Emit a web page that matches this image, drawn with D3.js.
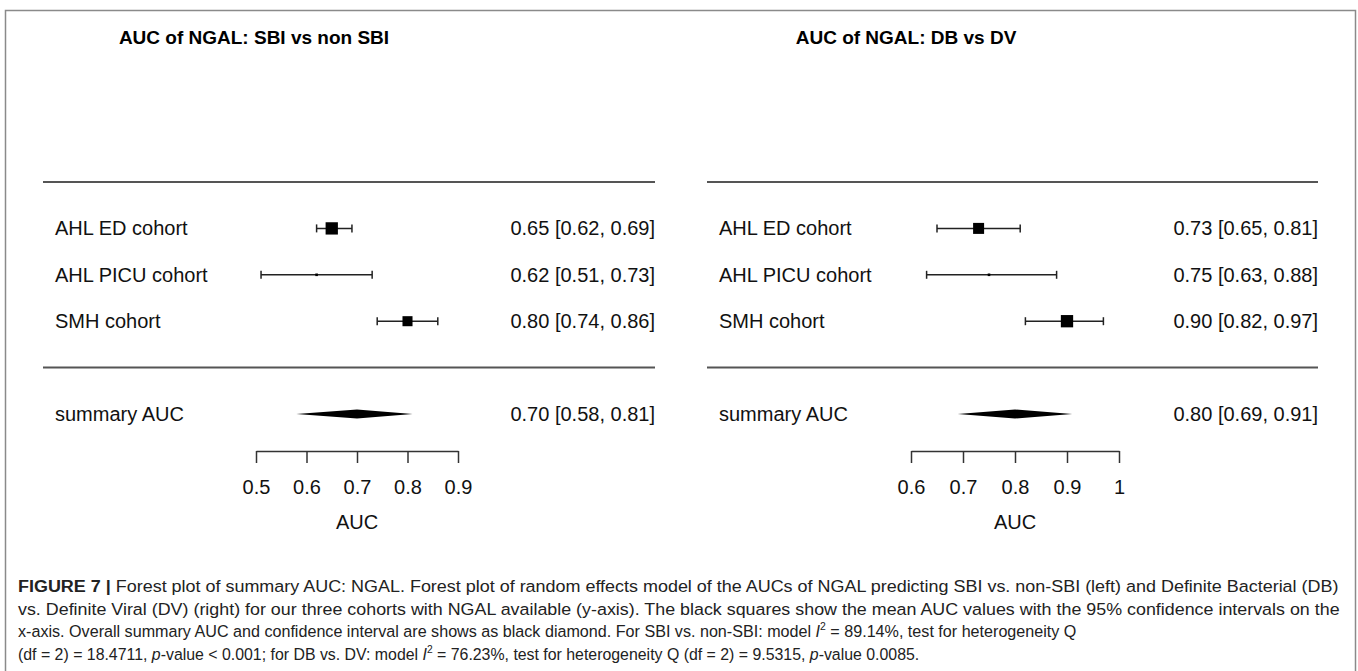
<!DOCTYPE html>
<html>
<head>
<meta charset="utf-8">
<script src="https://cdn.jsdelivr.net/npm/d3@7"></script>
<style>
  body { margin: 0; background: #fff; }
  svg { display: block; font-family: "Liberation Sans", Arial, sans-serif; }
</style>
</head>
<body>
<svg id="chart" width="1358" height="671"></svg>
<script>
// 資料
const cohorts = ["AHL ED cohort", "AHL PICU cohort", "SMH cohort"];
const summaryLabel = "summary AUC";

// SBI vs non SBI
const sbiAuc = [0.65, 0.62, 0.80];
const sbiLower = [0.62, 0.51, 0.74];
const sbiUpper = [0.69, 0.73, 0.86];
const sbiWeight = [45, 2, 30];
const sbiSummary = [0.70, 0.58, 0.81];
const sbiTicks = [0.5, 0.6, 0.7, 0.8, 0.9];

// DB vs DV
const dbAuc = [0.73, 0.75, 0.90];
const dbLower = [0.65, 0.63, 0.82];
const dbUpper = [0.81, 0.88, 0.97];
const dbWeight = [36, 2, 45];
const dbSummary = [0.80, 0.69, 0.91];
const dbTicks = [0.6, 0.7, 0.8, 0.9, 1];

const svg = d3.select("#chart");
const fmt = d3.format(".2f");

// 外框
svg.append("rect")
  .attr("x", 5.5).attr("y", 10.5)
  .attr("width", 1350).attr("height", 720)
  .attr("fill", "none").attr("stroke", "#8a8a8a").attr("stroke-width", 1.5);

// 列位置 (metafor 風格: 3..1 為研究, -1 為 summary)
const y = d3.scaleLinear().domain([4, -1]).range([182, 414]);
const size = d3.scaleSqrt().domain([0, 45]).range([0, 12.3]);

function drawPanel(opt) {
  const g = svg.append("g");
  const x = d3.scaleLinear().domain(d3.extent(opt.ticks)).range(opt.range);

  g.append("text")
    .attr("x", opt.titleX).attr("y", 44)
    .attr("text-anchor", "middle")
    .attr("font-weight", "bold").attr("font-size", 19)
    .text(opt.title);

  // 水平分隔線
  [4, 0].forEach((r) => {
    g.append("line")
      .attr("x1", opt.left).attr("x2", opt.right)
      .attr("y1", y(r)).attr("y2", y(r))
      .attr("stroke", "#555").attr("stroke-width", 2);
  });

  const rows = cohorts.map((c, i) => ({
    name: c, est: opt.est[i], lo: opt.lo[i], hi: opt.hi[i], w: opt.w[i], row: 3 - i
  }));

  const row = g.selectAll(".row").data(rows).enter().append("g");
  row.append("text")
    .attr("x", opt.left + 12).attr("y", (d) => y(d.row) + 7)
    .attr("font-size", 20).attr("fill", "#111")
    .text((d) => d.name);
  row.append("text")
    .attr("x", opt.right).attr("y", (d) => y(d.row) + 7)
    .attr("text-anchor", "end")
    .attr("font-size", 20).attr("fill", "#111")
    .text((d) => `${fmt(d.est)} [${fmt(d.lo)}, ${fmt(d.hi)}]`);
  row.append("line")
    .attr("x1", (d) => x(d.lo)).attr("x2", (d) => x(d.hi))
    .attr("y1", (d) => y(d.row)).attr("y2", (d) => y(d.row))
    .attr("stroke", "#222").attr("stroke-width", 1.5);
  ["lo", "hi"].forEach((k) => {
    row.append("line")
      .attr("x1", (d) => x(d[k])).attr("x2", (d) => x(d[k]))
      .attr("y1", (d) => y(d.row) - 4).attr("y2", (d) => y(d.row) + 4)
      .attr("stroke", "#222").attr("stroke-width", 1.5);
  });
  row.append("rect")
    .attr("x", (d) => x(d.est) - size(d.w) / 2)
    .attr("y", (d) => y(d.row) - size(d.w) / 2)
    .attr("width", (d) => size(d.w)).attr("height", (d) => size(d.w))
    .attr("fill", "#000");

  // summary 菱形
  const [se, sl, sh] = opt.summary;
  const sy = y(-1);
  g.append("text")
    .attr("x", opt.left + 12).attr("y", sy + 7)
    .attr("font-size", 20).attr("fill", "#111")
    .text(summaryLabel);
  g.append("text")
    .attr("x", opt.right).attr("y", sy + 7)
    .attr("text-anchor", "end")
    .attr("font-size", 20).attr("fill", "#111")
    .text(`${fmt(se)} [${fmt(sl)}, ${fmt(sh)}]`);
  g.append("path")
    .attr("d", d3.line()([[x(sl), sy], [x(se), sy - 4.5], [x(sh), sy], [x(se), sy + 4.5]]) + "Z")
    .attr("fill", "#000");

  // x 軸
  const axis = g.append("g")
    .attr("transform", `translate(0,451)`)
    .call(d3.axisBottom(x).tickValues(opt.ticks).tickSize(12).tickSizeOuter(0).tickPadding(17)
      .tickFormat((d) => d3.format("")(d)));
  axis.select(".domain").attr("stroke", "#333").attr("stroke-width", 1.5);
  axis.selectAll(".tick line").attr("stroke", "#333").attr("stroke-width", 1.5);
  axis.selectAll(".tick text")
    .attr("font-size", 20).attr("font-family", "Liberation Sans, Arial, sans-serif").attr("fill", "#111");

  g.append("text")
    .attr("x", (opt.range[0] + opt.range[1]) / 2).attr("y", 529)
    .attr("text-anchor", "middle").attr("font-size", 20).attr("fill", "#111")
    .text("AUC");
}

drawPanel({
  title: "AUC of NGAL: SBI vs non SBI", titleX: 254,
  left: 43, right: 655, range: [256, 458], ticks: sbiTicks,
  est: sbiAuc, lo: sbiLower, hi: sbiUpper, w: sbiWeight, summary: sbiSummary
});
drawPanel({
  title: "AUC of NGAL: DB vs DV", titleX: 906,
  left: 707, right: 1318, range: [911, 1119], ticks: dbTicks,
  est: dbAuc, lo: dbLower, hi: dbUpper, w: dbWeight, summary: dbSummary
});

// 圖說 (窄字: 先量寬度, 再橫向縮放)
const caption = [
  { end: 1340, parts: [["FIGURE 7 | ", "b"], ["Forest plot of summary AUC: NGAL. Forest plot of random effects model of the AUCs of NGAL predicting SBI vs. non-SBI (left) and Definite Bacterial (DB)"]] },
  { end: 1340, parts: [["vs. Definite Viral (DV) (right) for our three cohorts with NGAL available (y-axis). The black squares show the mean AUC values with the 95% confidence intervals on the"]] },
  { end: 1077, parts: [["x-axis. Overall summary AUC and confidence interval are shows as black diamond. For SBI vs. non-SBI: model "], ["I", "i"], ["2", "sup"], [" = 89.14%, test for heterogeneity Q"]] },
  { end: 920, parts: [["(df = 2) = 18.4711, "], ["p", "i"], ["-value < 0.001; for DB vs. DV: model "], ["I", "i"], ["2", "sup"], [" = 76.23%, test for heterogeneity Q (df = 2) = 9.5315, "], ["p", "i"], ["-value 0.0085."]] }
];
caption.forEach((line, i) => {
  const lg = svg.append("g");
  const t = lg.append("text")
    .attr("x", 0).attr("y", 0)
    .attr("font-size", 17).attr("fill", "#222");
  let afterSup = false;
  line.parts.forEach(([s, style]) => {
    const ts = t.append("tspan").text(s);
    if (style === "b") ts.attr("font-weight", "bold");
    if (style === "i") ts.attr("font-style", "italic");
    if (style === "sup") ts.attr("font-size", 11).attr("dy", -7);
    if (afterSup) ts.attr("dy", 7);
    afterSup = style === "sup";
  });
  const natural = t.node().getComputedTextLength();
  const sx = (line.end - 18) / natural;
  lg.attr("transform", `translate(18,${592 + i * 22.7}) scale(${sx},1)`);
});
</script>
</body>
</html>
